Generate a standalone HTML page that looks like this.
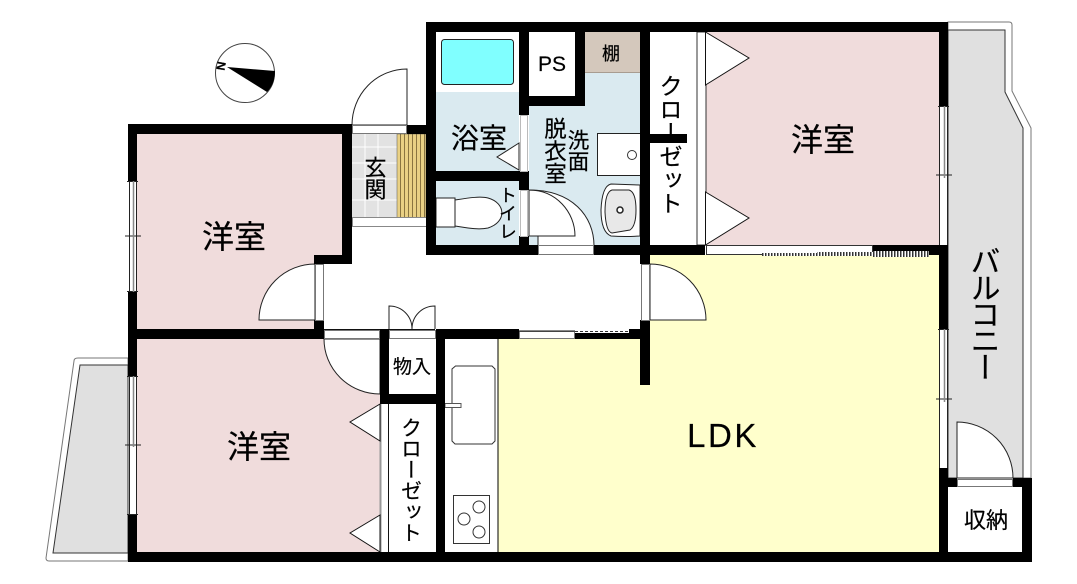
<!DOCTYPE html>
<html lang="ja">
<head>
<meta charset="utf-8">
<title>間取り図</title>
<style>
html,body{margin:0;padding:0;background:#fff;}
svg{display:block;}
text{font-family:"Liberation Sans","Noto Sans CJK JP",sans-serif;fill:#000;stroke:#000;stroke-width:.2px;}
.v{writing-mode:vertical-rl;text-anchor:start;}
.m{text-anchor:middle;}
</style>
</head>
<body>
<svg width="1077" height="584" viewBox="0 0 1077 584" xmlns="http://www.w3.org/2000/svg">
<defs>
<pattern id="wood" width="4" height="4" patternUnits="userSpaceOnUse">
<rect width="4" height="4" fill="#e9d084"/><rect width="1" height="4" fill="#8a7440"/>
</pattern>
<pattern id="hatch" width="3" height="4" patternUnits="userSpaceOnUse">
<rect width="3" height="4" fill="#fff"/><rect width="1.5" height="4" fill="#333"/>
</pattern>
</defs>

<!-- balconies -->
<path d="M948 22H1009Q1012 22 1012 25V91L1031 128V478H948Z" fill="#fff" stroke="#777" stroke-width="1"/>
<path d="M948 30H1005V92L1023 128V478H948Z" fill="#e0e0e0" stroke="#333" stroke-width="1"/>
<path d="M128 358H78Q74 358 74 361L46 558Q46 561 49 561H128Z" fill="#fff" stroke="#777" stroke-width="1"/>
<path d="M128 365H80L53 553H128Z" fill="#e0e0e0" stroke="#333" stroke-width="1"/>

<!-- floors -->
<path d="M137 134H342V255H314V329H137Z" fill="#f0dcdc"/>
<rect x="137" y="339" width="243" height="213" fill="#f0dcdc"/>
<rect x="705" y="32" width="234" height="213" fill="#f0dcdc"/>
<path d="M650 255H939V552H498V339H650Z" fill="#ffffcc"/>
<rect x="445" y="339" width="53" height="213" fill="#fff"/>
<path d="M498 339V552" stroke="#000" stroke-width="1"/>
<rect x="436" y="92" width="83" height="80" fill="#daeaf0"/>
<rect x="436" y="180" width="83" height="66" fill="#daeaf0"/>
<path d="M529 105H585V72H640V246H529Z" fill="#daeaf0"/>
<rect x="585" y="32" width="55" height="41" fill="#d4c8bc"/>
<rect x="585" y="72" width="55" height="1" fill="#a89c90"/>

<!-- genkan -->
<rect x="352" y="134" width="46" height="83" fill="#e2e2e2"/>
<path d="M365 134V217M378 134V217M352 147H398M352 163H398M352 179H398M352 200H398" stroke="#fff" stroke-width="1"/>
<rect x="397" y="134" width="29" height="88" fill="url(#wood)" stroke="#555" stroke-width="0.5"/>
<rect x="352.500" y="217.500" width="74" height="9" fill="#fff" stroke="#888" stroke-width="1"/>

<!-- bath fixtures -->
<rect x="441.500" y="39.500" width="72" height="45" rx="3" fill="#80ffff" stroke="#222" stroke-width="1"/>
<path d="M519 143L497 157L519 170Z" fill="#fff" stroke="#222" stroke-width="1"/>

<!-- toilet -->
<rect x="436" y="198" width="19" height="29" fill="#fff" stroke="#222" stroke-width="1"/>
<path d="M455 200C468 198 480 196 488 198C506 203 507 222 488 228C478 230 468 228 455 226Z" fill="#fff" stroke="#222" stroke-width="1"/>

<!-- washroom fixtures -->
<rect x="597.500" y="133.500" width="43" height="42" fill="#fff" stroke="#222" stroke-width="1"/>
<circle cx="632" cy="155" r="4.500" fill="#fff" stroke="#333" stroke-width="1"/>
<path d="M640 185L611 184Q602 186 601 210Q601 232 611 236Q625 237 640 236Z" fill="#fff" stroke="#222" stroke-width="1"/>
<path d="M629 190Q636 192 636 210Q636 226 630 230L612 233Q606 232 605 212Q605 192 612 190Z" fill="#e8e8e8" stroke="#222" stroke-width="1"/>
<circle cx="620" cy="210" r="3" fill="#fff" stroke="#222" stroke-width="1.500"/>
<path d="M529 190C572 190 594 216 594 246H538V236H529Z" fill="#fff" stroke="#222" stroke-width="1"/>
<path d="M529 190C556 190 575 212 575 236H538" fill="none" stroke="#222" stroke-width="1"/>

<!-- closets -->
<rect x="650" y="32" width="47" height="213" fill="#fff"/>
<rect x="697" y="32" width="9" height="213" fill="#fff" stroke="#333" stroke-width="1"/>
<path d="M705.500 32L749 58L705.500 85ZM705.500 192L749 218L705.500 245Z" fill="#fff" stroke="#111" stroke-width="1"/>
<rect x="389" y="404" width="47" height="148" fill="#fff"/>
<rect x="380" y="404" width="9" height="148" fill="#fff"/>
<path d="M380.500 404V552" stroke="#999" stroke-width="2"/>
<path d="M388.500 404V552" stroke="#111" stroke-width="1"/>
<path d="M380 404L350 422L380 441ZM380 515L350 533L380 552Z" fill="#fff" stroke="#111" stroke-width="1"/>
<rect x="389" y="339" width="47" height="55" fill="#fff"/>

<!-- kitchen -->
<path d="M455.500 366H492L495 369V441L492 444H455L452 441V369Z" fill="#fff" stroke="#333" stroke-width="1"/>
<rect x="445" y="403.500" width="16" height="4" fill="#fff" stroke="#555" stroke-width="1"/>
<rect x="453.500" y="495.500" width="36" height="48" fill="#fff" stroke="#333" stroke-width="1"/>
<circle cx="479" cy="507" r="6" fill="#fff" stroke="#333" stroke-width="1"/>
<circle cx="464" cy="519" r="6" fill="#fff" stroke="#333" stroke-width="1"/>
<circle cx="479" cy="532" r="6" fill="#fff" stroke="#333" stroke-width="1"/>

<!-- door swings -->
<path d="M352 125A55 56 0 0 1 407 69V125Z" fill="#fff" stroke="#222" stroke-width="1"/>
<path d="M259 320A56 56 0 0 1 315 264V320Z" fill="#fff" stroke="#222" stroke-width="1"/>
<path d="M324 339A56 55 0 0 0 380 394V339Z" fill="#fff" stroke="#222" stroke-width="1"/>
<path d="M650 264A56 56 0 0 1 706 320H650Z" fill="#fff" stroke="#222" stroke-width="1"/>
<path d="M957 478V422A56 56 0 0 1 1013 478Z" fill="#fff" stroke="#222" stroke-width="1"/>
<path d="M389 329V306C402 306 412 316 412 329M435 329V306C422 306 412 316 412 329" fill="none" stroke="#222" stroke-width="1"/>

<!-- walls -->
<g fill="#000">
<rect x="128" y="124" width="224" height="10"/>
<rect x="128" y="124" width="9" height="57"/>
<rect x="128" y="292" width="9" height="84"/>
<rect x="128" y="515" width="9" height="47"/>
<rect x="342" y="124" width="10" height="140"/>
<rect x="314" y="255" width="38" height="9"/>
<rect x="314" y="320" width="10" height="19"/>
<rect x="128" y="329" width="196" height="10"/>
<rect x="380" y="329" width="9" height="75"/>
<rect x="380" y="394" width="65" height="10"/>
<rect x="436" y="329" width="9" height="233"/>
<rect x="436" y="329" width="83" height="10"/>
<rect x="575" y="333" width="75" height="6"/>
<rect x="629" y="329" width="21" height="10"/>
<rect x="640" y="320" width="10" height="65"/>
<rect x="128" y="552" width="904" height="10"/>
<rect x="426" y="22" width="522" height="10"/>
<rect x="426" y="22" width="10" height="233"/>
<rect x="407" y="125" width="19" height="9"/>
<rect x="519" y="22" width="10" height="93"/>
<rect x="575" y="22" width="10" height="84"/>
<rect x="519" y="96" width="66" height="10"/>
<rect x="436" y="171" width="93" height="10"/>
<rect x="519" y="171" width="10" height="19"/>
<rect x="519" y="236" width="10" height="19"/>
<rect x="640" y="22" width="10" height="233"/>
<rect x="650" y="134" width="37" height="9"/>
<rect x="426" y="245" width="112" height="10"/>
<rect x="594" y="245" width="111" height="10"/>
<rect x="640" y="245" width="10" height="19"/>
<rect x="939" y="22" width="9" height="84"/>
<rect x="873" y="245" width="75" height="10"/>
<rect x="939" y="245" width="9" height="84"/>
<rect x="939" y="468" width="9" height="94"/>
<rect x="939" y="478" width="18" height="9"/>
<rect x="1013" y="478" width="19" height="9"/>
<rect x="1022" y="478" width="10" height="84"/>
</g>

<!-- openings -->
<g fill="#fff" stroke="#777" stroke-width="1">
<rect x="352.500" y="125.500" width="54" height="8"/>
<rect x="538.500" y="245.500" width="55" height="9"/>
<rect x="520.500" y="115.500" width="7" height="56" stroke="#bbb"/>
<rect x="520.500" y="190.500" width="7" height="46" stroke="#bbb"/>
<rect x="315.500" y="264.500" width="8" height="56"/>
<rect x="641.500" y="264.500" width="8" height="56"/>
<rect x="324.500" y="330.500" width="55" height="8"/>
<rect x="389.500" y="330.500" width="46" height="8"/>
<rect x="519.500" y="331.500" width="55" height="7"/>
<rect x="957.500" y="479.500" width="55" height="7"/>
<rect x="706.500" y="245.500" width="166" height="9" stroke="#333"/>
</g>
<path d="M389 329.500H435M324 329.500H380M519 331H575" stroke="#111" stroke-width="1"/>
<path d="M575 331.500H630" stroke="#333" stroke-width="1" stroke-dasharray="3 2"/>

<!-- sliding hatch -->
<rect x="762" y="253" width="55" height="3" fill="url(#hatch)"/>
<rect x="817" y="252" width="56" height="4" fill="url(#hatch)"/>
<rect x="873" y="251" width="56" height="6" fill="url(#hatch)"/>

<!-- windows -->
<g fill="#fff">
<rect x="129" y="181" width="8" height="111"/>
<rect x="129" y="376" width="8" height="139"/>
<rect x="940" y="106" width="8" height="139"/>
<rect x="940" y="329" width="8" height="139"/>
</g>
<g fill="none" stroke="#222" stroke-width="1">
<path d="M127 181.500H138M127 291.500H138M125 236H141M129.500 181V292M136.500 181V292"/>
<path d="M127 376.500H138M127 514.500H138M125 445H141M129.500 376V515M136.500 376V515"/>
<path d="M938 106.500H949M936 175H952M939.500 106V245M947.500 106V245"/>
<path d="M938 329.500H949M936 399H952M939.500 329V468M947.500 329V468"/>
</g>
<path d="M133.500 181V238M133.500 234V292M133.500 376V447M944.500 106V178M944.500 329V402" stroke="#888" stroke-width="1.500" fill="none"/>

<!-- compass -->
<circle cx="245" cy="73" r="29.500" fill="#fff" stroke="#444" stroke-width="1"/>
<path d="M227 67L275 71Q275 84 267 92Z" fill="#000"/>
<text x="0" y="0" font-size="12" class="m" font-weight="bold" transform="translate(221 66) rotate(100) translate(0 4)">N</text>

<!-- labels -->
<text x="479" y="148" font-size="28" class="m">浴室</text>
<text x="823" y="151" font-size="32" class="m">洋室</text>
<text x="234" y="248" font-size="32" class="m">洋室</text>
<text x="259" y="458" font-size="32" class="m">洋室</text>
<text x="723" y="447" font-size="33" class="m" letter-spacing="2.500">LDK</text>
<text x="552" y="71" font-size="21" class="m">PS</text>
<text x="611" y="60" font-size="18" class="m">棚</text>
<text x="412" y="373" font-size="19" class="m">物入</text>
<text x="986" y="528" font-size="22" class="m">収納</text>
<text x="982" y="246" font-size="30" letter-spacing="-3.500" class="v">バルコニー</text>
<text x="669" y="74" font-size="23.500" class="v">クローゼット</text>
<text x="410" y="417" font-size="21" class="v">クローゼット</text>
<text x="374" y="156" font-size="22" class="v">玄関</text>
<text x="554" y="117" font-size="22.500" class="v">脱衣室</text>
<text x="577" y="129" font-size="21.500" class="v">洗面</text>
<text x="507" y="186" font-size="18" class="v">トイレ</text>
</svg>
</body>
</html>
